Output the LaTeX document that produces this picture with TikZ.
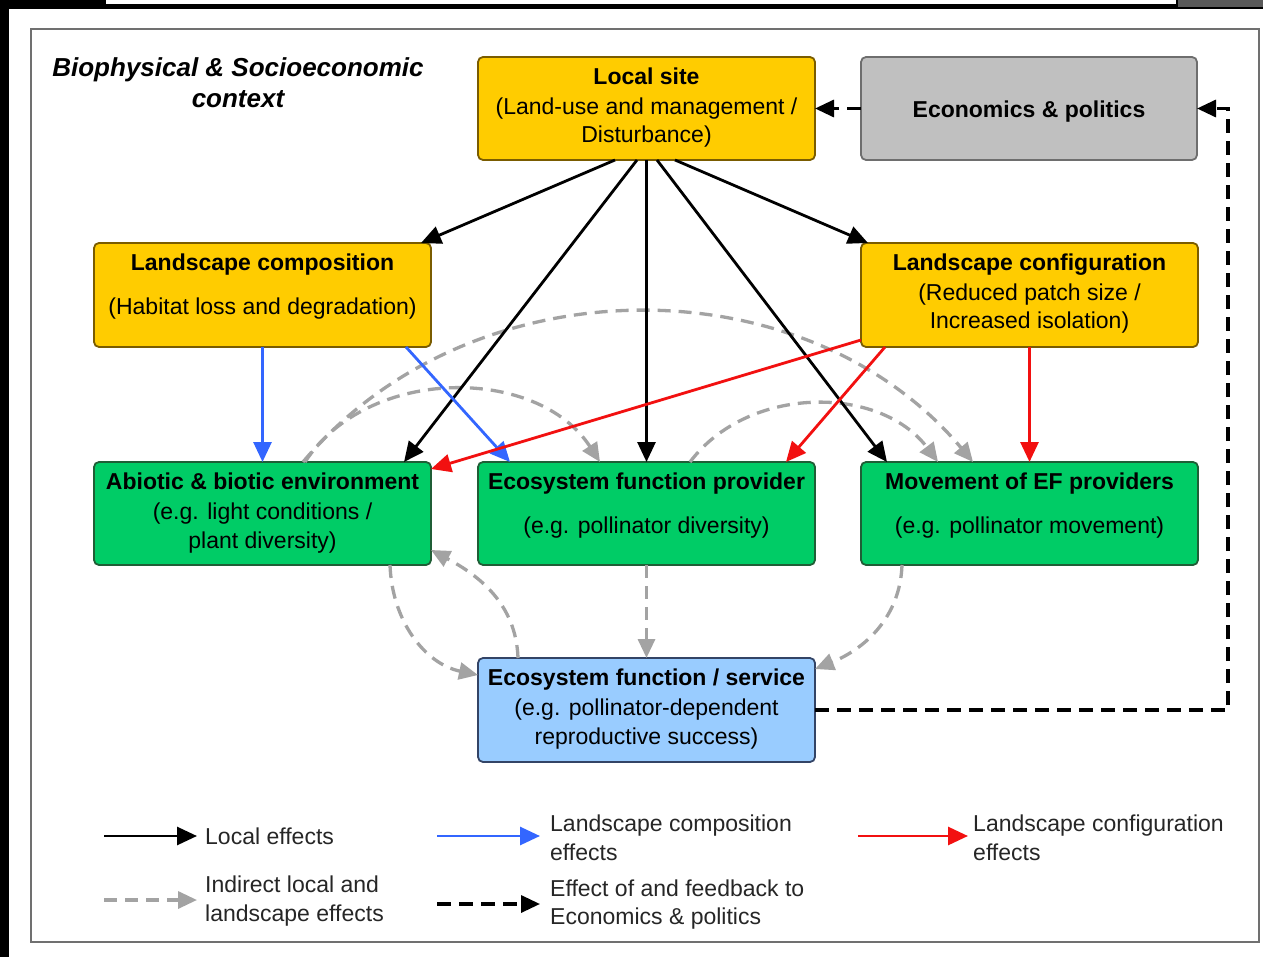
\documentclass[tikz,border=0pt]{standalone}
\usepackage{fontspec}
\setmainfont{Liberation Sans}
\usetikzlibrary{arrows.meta}
\definecolor{yel}{HTML}{FFCC00}
\definecolor{yelbd}{HTML}{7A5C00}
\definecolor{grn}{HTML}{00CC66}
\definecolor{grnbd}{HTML}{1F5E36}
\definecolor{lblu}{HTML}{99CCFF}
\definecolor{lblubd}{HTML}{334466}
\definecolor{gbox}{HTML}{C0C0C0}
\definecolor{gboxbd}{HTML}{6E6E6E}
\definecolor{bl}{HTML}{3366FF}
\definecolor{rd}{HTML}{F21010}
\definecolor{gr}{HTML}{A3A3A3}
\definecolor{frame}{HTML}{707070}
\definecolor{legtxt}{HTML}{262626}
\begin{document}
\begin{tikzpicture}[x=1pt,y=-1pt,
  box/.style={draw, rounded corners=5pt, line width=1.8pt, minimum width=337pt, minimum height=103pt, inner sep=0pt, outer sep=0pt},
  ybox/.style={box, fill=yel, draw=yelbd},
  gnbox/.style={box, fill=grn, draw=grnbd},
  bbox/.style={box, fill=lblu, draw=lblubd},
  gybox/.style={box, fill=gbox, draw=gboxbd},
  ttl/.style={inner sep=0pt, anchor=base, text=black, font=\fontsize{23}{28}\selectfont\bfseries},
  sub/.style={inner sep=0pt, anchor=base, text=black, font=\fontsize{23}{28}\selectfont},
  leg/.style={inner sep=0pt, anchor=west, align=left, text=legtxt, font=\fontsize{23}{28.5}\selectfont},
  loc/.style={draw=black, line width=2.8pt, -{Triangle[length=20pt,width=18pt]}},
  comp/.style={draw=bl, line width=2.8pt, -{Triangle[length=20pt,width=18pt]}},
  conf/.style={draw=rd, line width=2.8pt, -{Triangle[length=20pt,width=18pt]}},
  ind/.style={draw=gr, line width=3.3pt, dash pattern=on 13pt off 8pt, -{Triangle[length=19pt,width=17pt]}},
  fbk/.style={draw=black, line width=3.3pt, dash pattern=on 14pt off 8pt, -{Triangle[length=19pt,width=17pt]}}
]
\useasboundingbox (0,0) rectangle (1263,957);
\fill[white] (0,0) rectangle (1263,957);
% screenshot edges
\fill[black] (0,0) rectangle (1263,9);
\fill[black] (0,0) rectangle (9,957);
\fill[white] (106,0) rectangle (1176,4);
\fill[black!65] (1178,0) rectangle (1263,7);
% outer frame
\draw[frame, line width=2pt] (31,29) rectangle (1259,942);

% title
\node[inner sep=0pt, align=center, font=\fontsize{26}{31}\selectfont\bfseries\itshape] (title) at (238,83) {Biophysical \& Socioeconomic\\context};

% boxes
\node[ybox] (ls) at (646.5,108.5) {};
\node[gybox, minimum width=336pt] (econ) at (1029,108.5) {};
\node[ybox, minimum height=104pt] (lc) at (262.5,295) {};
\node[ybox, minimum height=104pt] (lcf) at (1029.5,295) {};
\node[gnbox] (abio) at (262.5,513.5) {};
\node[gnbox] (efp) at (646.5,513.5) {};
\node[gnbox] (mov) at (1029.5,513.5) {};
\node[bbox, minimum height=104pt] (efs) at (646.5,710) {};

% box texts
\node[ttl] (ls1) at (646.5,85) {Local site};
\node[sub] (ls2) at (646.5,115) {(Land-use and management /};
\node[sub] (ls3) at (646.5,143) {Disturbance)};
\node[ttl] (econ1) at (1029,118) {Economics \& politics};
\node[ttl] (lc1) at (262.5,271) {Landscape composition};
\node[sub] (lc2) at (262.5,315) {(Habitat loss and degradation)};
\node[ttl] (lcf1) at (1029.5,271) {Landscape configuration};
\node[sub] (lcf2) at (1029.5,301) {(Reduced patch size /};
\node[sub] (lcf3) at (1029.5,329) {Increased isolation)};
\node[ttl] (abio1) at (262.5,489) {Abiotic \& biotic environment};
\node[sub] (abio2) at (262.5,519) {(e.g. light conditions /};
\node[sub] (abio3) at (262.5,548) {plant diversity)};
\node[ttl] (efp1) at (646.5,489) {Ecosystem function provider};
\node[sub] (efp2) at (646.5,533) {(e.g. pollinator diversity)};
\node[ttl] (mov1) at (1029.5,489) {Movement of EF providers};
\node[sub] (mov2) at (1029.5,533) {(e.g. pollinator movement)};
\node[ttl] (efs1) at (646.5,685) {Ecosystem function / service};
\node[sub] (efs2) at (646.5,715) {(e.g. pollinator-dependent};
\node[sub] (efs3) at (646.5,744) {reproductive success)};

% indirect (grey dashed)
\draw[ind] ([xshift=209pt]abio.north west) to[bend left=50] ([xshift=112pt]mov.north west);
\draw[ind] ([xshift=211pt]abio.north west) to[bend left=57] ([xshift=122pt]efp.north west);
\draw[ind] ([xshift=212pt]efp.north west) to[bend left=53] ([xshift=77pt]mov.north west);
\draw[ind] ([xshift=-41pt]abio.south east) to[out=-88,in=168] ([yshift=-17pt]efs.north west);
\draw[ind] ([xshift=40pt]efs.north west) to[out=92,in=-28] ([yshift=15pt]abio.south east);
\draw[ind] (efp.south) -- (efs.north);
\draw[ind] ([xshift=41pt]mov.south west) to[out=-92,in=22] ([yshift=-11pt]efs.north east);

% local effects
\draw[loc] ([xshift=-31.5pt]ls.south) -- ([xshift=-10pt]lc.north east);
\draw[loc] ([xshift=-9.5pt]ls.south) -- ([xshift=-27pt]abio.north east);
\draw[loc] (ls.south) -- (efp.north);
\draw[loc] ([xshift=10.5pt]ls.south) -- ([xshift=26pt]mov.north west);
\draw[loc] ([xshift=28.5pt]ls.south) -- ([xshift=7pt]lcf.north west);

% composition
\draw[comp] (lc.south) -- (abio.north);
\draw[comp] ([xshift=-25pt]lc.south east) -- ([xshift=32pt]efp.north west);

% configuration
\draw[conf] ([yshift=7pt]lcf.south west) -- ([yshift=-7pt]abio.north east);
\draw[conf] ([xshift=24pt]lcf.south west) -- ([xshift=-29pt]efp.north east);
\draw[conf] (lcf.south) -- (mov.north);

% economics feedback
\draw[fbk] (econ.west) -- (ls.east);
\coordinate (fbc) at (1228,710);
\draw[fbk] (efs.east) -- (fbc) |- (econ.east);

% legend
\coordinate (g1s) at (104,836); \coordinate (g1e) at (197,836);
\node[leg] (g1t) at (205,836) {Local effects};
\draw[loc] (g1s) -- (g1e);
\coordinate (g2s) at (437,836); \coordinate (g2e) at (540,836);
\node[leg] (g2t) at (550,838) {Landscape composition\\effects};
\draw[comp] (g2s) -- (g2e);
\coordinate (g3s) at (858,836); \coordinate (g3e) at (968,836);
\node[leg] (g3t) at (973,838) {Landscape configuration\\effects};
\draw[conf] (g3s) -- (g3e);
\coordinate (g4s) at (104,900); \coordinate (g4e) at (197,900);
\node[leg] (g4t) at (205,901) {Indirect local and\\landscape effects};
\draw[ind] (g4s) -- (g4e);
\coordinate (g5s) at (437,904); \coordinate (g5e) at (540,904);
\node[leg] (g5t) at (550,904.5) {Effect of and feedback to\\Economics \& politics};
\draw[fbk] (g5s) -- (g5e);
\end{tikzpicture}
\end{document}
